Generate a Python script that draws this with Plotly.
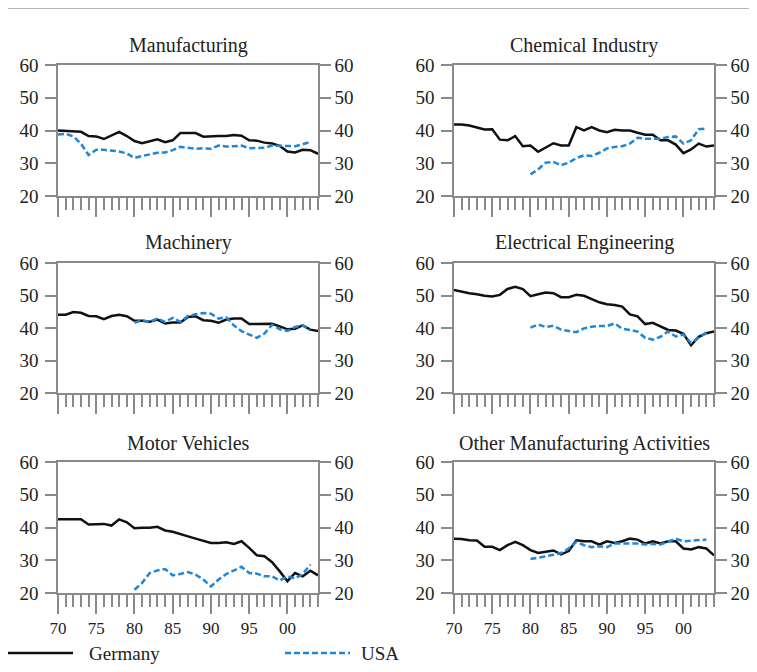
import plotly.graph_objects as go

# ---------------- data ----------------
years = list(range(1970, 2005))
usa_years = list(range(1980, 2004))
usa_years_manu = list(range(1970, 2004))

titles = ["Manufacturing", "Chemical Industry", "Machinery",
          "Electrical Engineering", "Motor Vehicles", "Other Manufacturing Activities"]

tick_vals = [1970, 1975, 1980, 1985, 1990, 1995, 2000]
tick_text = ["70", "75", "80", "85", "90", "95", "00"]
y_ticks = [20, 30, 40, 50, 60]

germany_manufacturing = [40.0, 39.9, 39.8, 39.6, 38.3, 38.2, 37.4, 38.6, 39.6, 38.3, 36.8, 36.1, 36.7,
                         37.3, 36.4, 37.0, 39.2, 39.2, 39.2, 38.1, 38.3, 38.3, 38.3, 38.6, 38.4, 37.0,
                         36.9, 36.3, 36.0, 35.3, 33.6, 33.3, 34.1, 34.0, 32.9]
usa_manufacturing = [38.8, 39.0, 38.2, 36.0, 32.5, 34.1, 34.1, 33.9, 33.6, 33.0, 31.6, 32.2, 32.8,
                     33.2, 33.3, 34.0, 35.0, 34.6, 34.4, 34.6, 34.4, 35.4, 35.1, 35.2, 35.4, 34.6,
                     34.6, 34.7, 35.4, 35.4, 35.2, 35.2, 35.8, 36.5]

germany_chemical = [41.8, 41.8, 41.5, 40.8, 40.3, 40.4, 37.2, 37.0, 38.3, 35.2, 35.4, 33.5, 34.8,
                    36.1, 35.4, 35.4, 41.0, 40.0, 41.0, 40.0, 39.5, 40.2, 40.0, 40.0, 39.3, 38.7,
                    38.7, 37.0, 37.0, 35.7, 33.1, 34.2, 36.0, 35.1, 35.4]
usa_chemical = [26.6, 28.1, 30.2, 30.4, 29.4, 30.2, 31.6, 32.4, 32.2, 33.2, 34.5, 35.0, 35.2, 36.0,
                37.8, 37.5, 37.5, 37.5, 38.0, 38.2, 36.0, 37.0, 40.4, 40.6]

germany_machinery = [44.1, 44.1, 44.9, 44.7, 43.7, 43.6, 42.7, 43.7, 44.1, 43.6, 42.2, 42.2, 41.9,
                     42.6, 41.4, 41.7, 41.7, 43.4, 43.6, 42.4, 42.2, 41.6, 42.6, 42.9, 42.9, 41.2,
                     41.2, 41.2, 41.3, 40.5, 39.6, 39.8, 40.8, 39.5, 39.1]
usa_machinery = [41.6, 42.4, 41.9, 42.9, 41.9, 43.1, 41.9, 43.7, 44.2, 44.6, 44.4, 42.9, 43.3, 40.8,
                 39.0, 37.9, 37.0, 38.3, 41.0, 39.6, 39.1, 40.3, 40.8, 39.5]

germany_electrical = [51.7, 51.1, 50.7, 50.4, 49.9, 49.7, 50.2, 52.0, 52.7, 52.0, 49.8, 50.4, 50.9,
                      50.7, 49.5, 49.5, 50.2, 49.9, 48.8, 47.9, 47.3, 47.1, 46.6, 44.2, 43.6, 41.2,
                      41.6, 40.6, 39.4, 39.2, 38.2, 34.7, 37.3, 38.4, 38.9]
usa_electrical = [40.1, 41.1, 40.3, 40.7, 39.5, 39.0, 38.7, 39.9, 40.4, 40.6, 40.6, 41.4, 39.8, 39.4,
                  38.9, 37.0, 36.4, 37.3, 38.9, 37.4, 38.0, 35.4, 37.0, 38.6]

germany_motor = [42.5, 42.5, 42.5, 42.5, 40.9, 41.1, 41.1, 40.6, 42.5, 41.6, 39.8, 39.9, 39.9, 40.2,
                 39.1, 38.7, 38.1, 37.3, 36.6, 36.0, 35.3, 35.3, 35.5, 35.0, 35.8, 33.8, 31.5, 31.2,
                 29.4, 26.6, 23.6, 26.1, 25.1, 26.8, 25.4]
usa_motor = [21.0, 23.1, 26.1, 26.9, 27.3, 25.4, 25.8, 26.4, 25.6, 24.1, 22.0, 24.1, 25.8, 26.9,
             28.0, 26.1, 25.9, 25.1, 25.1, 23.8, 25.1, 24.4, 25.8, 28.7]

germany_other = [36.6, 36.5, 36.1, 36.0, 34.1, 34.1, 33.1, 34.6, 35.6, 34.6, 33.1, 32.2, 32.6, 33.0,
                 31.8, 32.8, 36.1, 35.8, 35.8, 34.8, 35.8, 35.3, 35.8, 36.6, 36.3, 35.1, 35.8, 35.1,
                 35.8, 35.8, 33.6, 33.3, 34.0, 33.6, 31.5]
usa_other = [30.4, 30.7, 31.2, 31.7, 32.2, 33.6, 35.6, 34.6, 34.0, 34.3, 34.0, 35.1, 35.1, 35.3, 35.1,
             34.8, 35.0, 34.8, 35.6, 36.6, 35.8, 36.0, 36.3, 36.3]

germany_series = [germany_manufacturing, germany_chemical, germany_machinery,
                  germany_electrical, germany_motor, germany_other]
usa_series = [usa_manufacturing, usa_chemical, usa_machinery,
              usa_electrical, usa_motor, usa_other]
usa_x = [usa_years_manu, usa_years, usa_years, usa_years, usa_years, usa_years]

# ---------------- styling / geometry ----------------
OFF = 8                      # page (body) margin of the html document
W, H = 757 - OFF, 672 - 2 * OFF

GER_COLOR = "#111111"
USA_COLOR = "#1f86d8"
AXIS_COLOR = "#8a8a8a"
FONT = "Liberation Serif, Times New Roman, serif"
TXT = "#222222"

# target screen pixel positions
col_px = [(58, 318), (454, 714)]
row_px = [(65, 196), (263, 393), (462, 593)]
title_y_px = [45, 243, 443]


def px_x(p):
    return (p - OFF) / W


def px_y(p):
    return 1 - (p - OFF) / H


fig = go.Figure()
layout = dict(
    width=W, height=H,
    margin=dict(l=0, r=0, t=0, b=0, autoexpand=False),
    paper_bgcolor="white", plot_bgcolor="white",
    showlegend=False,
    font=dict(family=FONT, color=TXT, size=18),
)
annotations = []
shapes = []

for i in range(6):
    r, c = divmod(i, 2)
    n = i + 1
    nr = i + 7
    xa = "x" if n == 1 else f"x{n}"
    ya = "y" if n == 1 else f"y{n}"
    yr = f"y{nr}"
    xd = [px_x(col_px[c][0]), px_x(col_px[c][1])]
    yd = [px_y(row_px[r][1]), px_y(row_px[r][0])]

    layout[f"xaxis{'' if n == 1 else n}"] = dict(
        domain=xd, anchor=ya, range=[1970, 2004],
        showline=True, linecolor=AXIS_COLOR, linewidth=1.5, mirror=True,
        showgrid=False, zeroline=False, automargin=False,
        ticks="outside", ticklen=19, tickwidth=1.5, tickcolor=AXIS_COLOR,
        tickmode="array", tickvals=tick_vals, ticktext=tick_text,
        showticklabels=(r == 2),
        tickfont=dict(family=FONT, size=17, color=TXT),
        minor=dict(ticks="outside", ticklen=12, tickwidth=1.5, tickcolor=AXIS_COLOR,
                   tickmode="linear", tick0=1970, dtick=1, showgrid=False),
        fixedrange=True,
    )
    common_y = dict(
        range=[20, 60], tickmode="array", tickvals=y_ticks,
        showline=True, linecolor=AXIS_COLOR, linewidth=1.5,
        showgrid=False, zeroline=False, automargin=False,
        ticks="outside", ticklen=11, tickwidth=1.5, tickcolor=AXIS_COLOR,
        tickfont=dict(family=FONT, size=19, color=TXT),
        fixedrange=True,
    )
    layout[f"yaxis{'' if n == 1 else n}"] = dict(domain=yd, anchor=xa, side="left",
                                                 ticklabelstandoff=3, **common_y)
    layout[f"yaxis{nr}"] = dict(domain=yd, anchor=xa, side="right", overlaying=ya,
                                ticklabelstandoff=0, **common_y)

    # invisible trace so that the right-hand axis is rendered
    fig.add_trace(go.Scatter(x=years, y=germany_series[i], xaxis=xa, yaxis=yr,
                             mode="lines", line=dict(width=0, color="rgba(0,0,0,0)"),
                             hoverinfo="skip", showlegend=False))
    fig.add_trace(go.Scatter(x=years, y=germany_series[i], xaxis=xa, yaxis=ya,
                             mode="lines", name="Germany",
                             line=dict(color=GER_COLOR, width=2.5),
                             showlegend=False))
    fig.add_trace(go.Scatter(x=usa_x[i], y=usa_series[i], xaxis=xa, yaxis=ya,
                             mode="lines", name="USA",
                             line=dict(color=USA_COLOR, width=2.5, dash="6px,3px"),
                             showlegend=False))

    annotations.append(dict(
        text=titles[i], xref="paper", yref="paper",
        x=(xd[0] + xd[1]) / 2, y=px_y(title_y_px[r]),
        xanchor="center", yanchor="middle", showarrow=False,
        font=dict(family=FONT, size=20, color=TXT)))

# top rule
shapes.append(dict(type="line", xref="paper", yref="paper",
                   x0=0, x1=1, y0=1, y1=1,
                   line=dict(color="#b5b5b5", width=2)))

# legend
leg_y = px_y(653)
shapes.append(dict(type="line", xref="paper", yref="paper",
                   x0=px_x(8), x1=px_x(73), y0=leg_y, y1=leg_y,
                   line=dict(color=GER_COLOR, width=2.5)))
shapes.append(dict(type="line", xref="paper", yref="paper",
                   x0=px_x(285), x1=px_x(350), y0=leg_y, y1=leg_y,
                   line=dict(color=USA_COLOR, width=2.5, dash="6px,3px")))
annotations.append(dict(text="Germany", xref="paper", yref="paper", x=px_x(87), y=leg_y,
                        xanchor="left", yanchor="middle", showarrow=False,
                        font=dict(family=FONT, size=19, color=TXT)))
annotations.append(dict(text="USA", xref="paper", yref="paper", x=px_x(359), y=leg_y,
                        xanchor="left", yanchor="middle", showarrow=False,
                        font=dict(family=FONT, size=19, color=TXT)))

layout["annotations"] = annotations
layout["shapes"] = shapes
fig.update_layout(**layout)

fig.write_html("out.html")
